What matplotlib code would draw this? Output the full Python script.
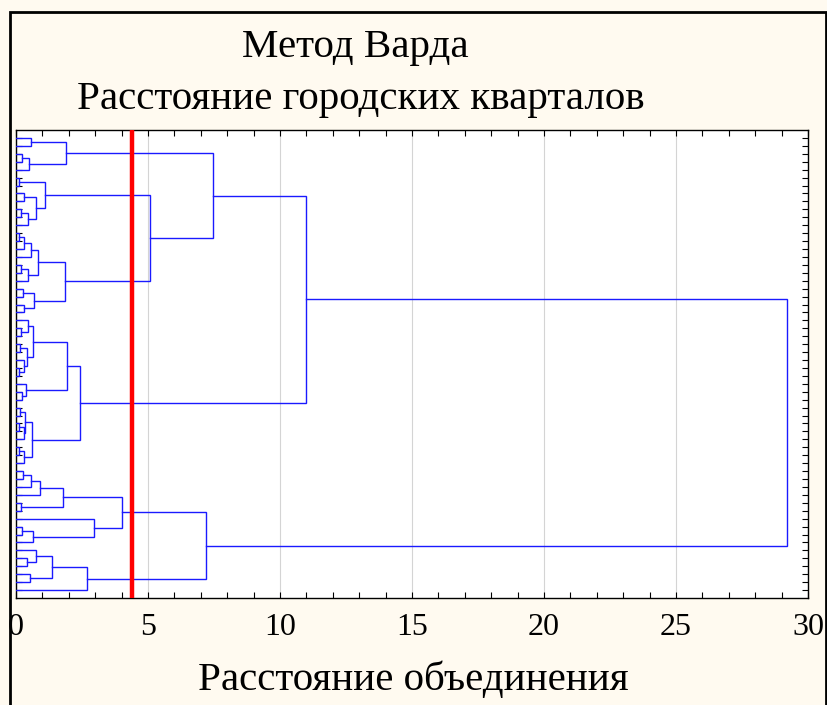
import matplotlib
matplotlib.use("Agg")
import matplotlib.pyplot as plt
from matplotlib.patches import Rectangle

# ---- data: Ward dendrogram (height, left, right); L = leaf ----
L = None
A1a = (1.9, (0.57, L, L), (0.48, (0.23, L, L), L))
A1b1 = (1.1, (0.12, L, L), (0.76, (0.3, L, L), (0.45, (0.2, L, L), L)))
A1b2 = (1.86,
        (0.84, (0.57, (0.3, (0.12, L, L), L), L), (0.45, (0.2, L, L), L)),
        (0.68, (0.25, L, L), (0.3, L, L)))
A1b = (5.08, A1b1, A1b2)
A1 = (7.46, A1a, A1b)
A2a1 = (0.63, (0.47, L, (0.2, L, L)), (0.4, (0.15, L, L), (0.3, L, (0.1, L, L))))
A2a2 = (0.38, L, (0.23, L, L))
A2a = (1.95, A2a1, A2a2)
A2b = (0.59, (0.35, (0.15, L, L), (0.29, (0.1, L, L), L)), (0.3, (0.12, L, L), L))
A2 = (2.42, A2a, A2b)
A = (11.0, A1, A2)
B1a = (1.77, (0.9, (0.57, (0.28, L, L), L), L), (0.2, L, L))
B1b = (2.97, L, (0.66, (0.24, L, L), L))
B1 = (4.0, B1a, B1b)
B2 = (2.7, (1.35, (0.76, L, (0.4, L, L)), (0.53, L, L)), L)
B = (7.2, B1, B2)
root = (29.2, A, B)

cut_distance = 4.38
x_ticks = [0, 5, 10, 15, 20, 25, 30]
title1 = "Метод Варда"
title2 = "Расстояние городских кварталов"
xlabel = "Расстояние объединения"

# ---- figure ----
W, H = 828, 705
fig = plt.figure(figsize=(W / 100, H / 100), dpi=100)
fig.patch.set_facecolor("#fffaf0")
fig.patches.append(Rectangle((10 / W, -0.02), (826 - 10) / W, (H - 12) / H + 0.02,
                             transform=fig.transFigure, fill=False,
                             edgecolor="black", linewidth=2, zorder=0))

ax = fig.add_axes([16 / W, (H - 598) / H, (808 - 16) / W, (598 - 130) / H])
ax.set_facecolor("white")

segments = []
counter = [0]


def walk(node):
    if node is None:
        pos = counter[0]
        counter[0] += 1
        return pos, 0.0
    h, left, right = node
    yl, hl = walk(left)
    yr, hr = walk(right)
    segments.append(([hl, h, h, hr], [yl, yl, yr, yr]))
    return (yl + yr) / 2.0, h


walk(root)
n_leaves = counter[0]

for xs, ys in segments:
    ax.plot(xs, ys, color="#1a1aff", linewidth=1.0, solid_joinstyle="miter", zorder=3)

ax.axvline(cut_distance, color="#ff0000", linewidth=3.2, zorder=4)

ax.set_xlim(0, 30)
ax.set_ylim(n_leaves, -1)
ax.set_xticks(x_ticks)
ax.set_xticks(range(0, 31), minor=True)
ax.set_yticks(range(n_leaves))
ax.set_yticklabels([])
ax.grid(axis="x", which="major", color="#d4d4d4", linewidth=0.8, zorder=0)
ax.set_axisbelow(True)

ax.tick_params(axis="x", which="both", direction="in", top=True, bottom=True,
               length=4, width=0.8, pad=11, labelsize=23)
ax.tick_params(axis="y", which="both", direction="in", left=True, right=True,
               length=4, width=0.8)
for lab in ax.get_xticklabels():
    lab.set_fontfamily("Liberation Serif")
for sp in ax.spines.values():
    sp.set_linewidth(1.0)
    sp.set_color("black")

fig.text(355 / W, 1 - 48 / H, title1, ha="center", va="center",
         fontsize=29.5, family="Liberation Serif")
fig.text(361 / W, 1 - 100 / H, title2, ha="center", va="center",
         fontsize=29.5, family="Liberation Serif")
fig.text(413 / W, 1 - 680 / H, xlabel, ha="center", va="center",
         fontsize=29.5, family="Liberation Serif")

fig.savefig("out.png", dpi=100, facecolor=fig.get_facecolor())
